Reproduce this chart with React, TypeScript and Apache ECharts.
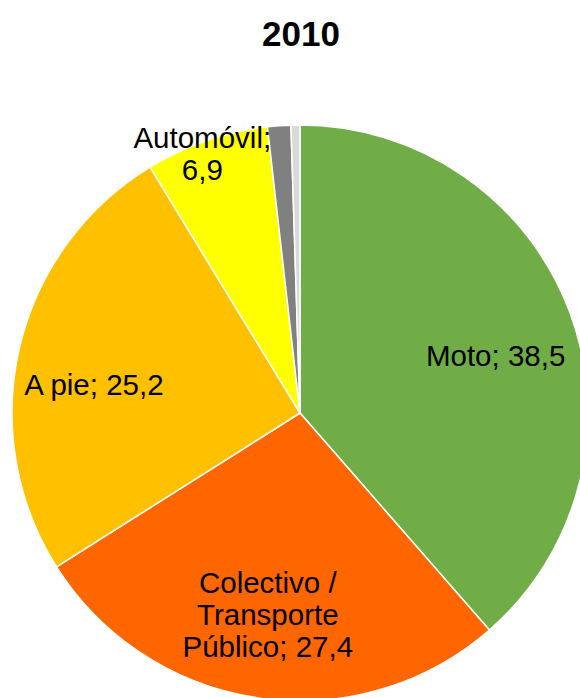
import React, { useEffect, useRef } from "react";
import * as echarts from "echarts";

const title = "2010";
const categories = ["Moto", "Colectivo / Transporte Público", "A pie", "Automóvil", "Bicicleta", "Otros"];
const labelNames = ["Moto", "Colectivo /\nTransporte\nPúblico", "A pie", "Automóvil", "", ""];
const labelSeparators = ["; ", "; ", "; ", ";\n", "", ""];
const values = [38.5, 27.4, 25.2, 6.9, 1.3, 0.5];
const showLabel = [true, true, true, true, false, false];
const colors = ["#70AD47", "#FF6600", "#FFC000", "#FFFF00", "#808080", "#D9D9D9"];
const labelOffsets = [
  [58, -6],
  [-11, 56],
  [-63, 5],
  [-50, -120],
  [0, 0],
  [0, 0],
];

export default function App() {
  const ref = useRef<HTMLDivElement>(null);
  useEffect(() => {
    document.body.style.margin = "0";
    const chart = echarts.init(ref.current!, null, { renderer: "svg" });
    chart.setOption({
      animation: false,
      backgroundColor: "#ffffff",
      title: {
        text: title,
        left: 296,
        textAlign: "center",
        top: 11,
        textStyle: {
          fontFamily: "Liberation Sans, Arial, sans-serif",
          fontSize: 35,
          fontWeight: "bold",
          color: "#000000",
        },
      },
      series: [
        {
          type: "pie",
          center: [300, 413],
          radius: 288,
          startAngle: 90,
          clockwise: true,
          avoidLabelOverlap: false,
          itemStyle: { borderColor: "#ffffff", borderWidth: 1.5 },
          label: {
            position: "inside",
            color: "#000000",
            fontFamily: "Liberation Sans, Arial, sans-serif",
            fontSize: 29.5,
            lineHeight: 32,
            align: "center",
            formatter: (p: any) =>
              labelNames[p.dataIndex] +
              labelSeparators[p.dataIndex] +
              String(p.value.toFixed(1)).replace(".", ","),
          },
          labelLine: { show: false },
          labelLayout: (p: any) => ({
            dx: labelOffsets[p.dataIndex][0],
            dy: labelOffsets[p.dataIndex][1],
          }),
          emphasis: { disabled: true },
          data: categories.map((name, i) => ({
            name,
            value: values[i],
            itemStyle: { color: colors[i] },
            label: { show: showLabel[i] },
          })),
        },
      ],
    });
    return () => chart.dispose();
  }, []);
  return <div ref={ref} style={{ width: 580, height: 698 }} />;
}
